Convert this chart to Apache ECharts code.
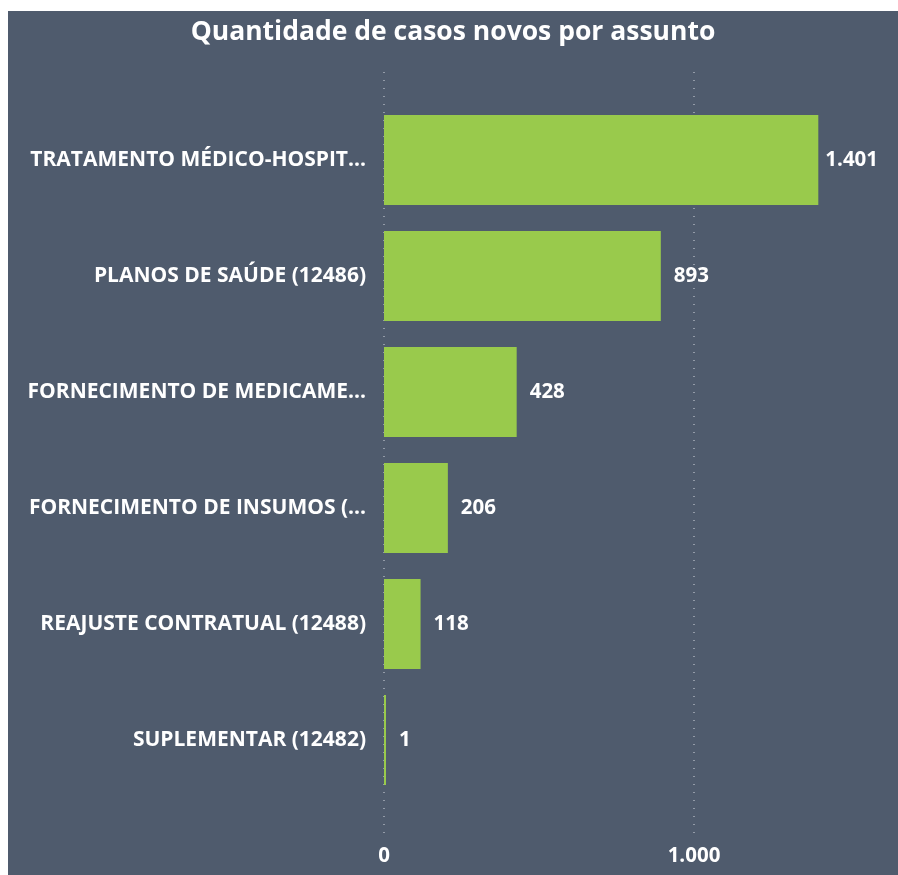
<!DOCTYPE html>
<html>
<head>
<meta charset="utf-8">
<title>Quantidade de casos novos por assunto</title>
<script src="https://cdn.jsdelivr.net/npm/echarts@6/dist/echarts.min.js"></script>
<style>
  html, body { margin: 0; padding: 0; background: #ffffff; }
  #chart { position: absolute; left: 8px; top: 11px; width: 890px; height: 864px; }
</style>
</head>
<body>
<div id="chart"></div>
<script>
// dados do gráfico
var assuntos = [
  'TRATAMENTO MÉDICO-HOSPIT...',
  'PLANOS DE SAÚDE (12486)',
  'FORNECIMENTO DE MEDICAME...',
  'FORNECIMENTO DE INSUMOS (...',
  'REAJUSTE CONTRATUAL (12488)',
  'SUPLEMENTAR (12482)'
];
var casosNovos = [1401, 893, 428, 206, 118, 1];
var eixoMax = 1500;
var eixoPasso = 1000;

// separador de milhar com ponto
function milhar(v) {
  return String(v).replace(/\B(?=(\d{3})+(?!\d))/g, '.');
}

var fonte = '"Open Sans", "Noto Sans", sans-serif';
var myChart = echarts.init(document.getElementById('chart'));

// a maior barra tem o rótulo mais perto (falta espaço à direita)
var dadosBarras = casosNovos.map(function (v, i) {
  return i === 0 ? { value: v, label: { distance: 7 } } : v;
});

var option = {
  backgroundColor: '#4f5b6d',
  animation: false,
  title: {
    text: 'Quantidade de casos novos por assunto',
    left: 'center',
    top: 3,
    textStyle: { color: '#ffffff', fontSize: 26.5, fontWeight: 'bold', fontFamily: fonte }
  },
  grid: [
    // barras
    { left: 376, right: 49, top: 91, height: 696 },
    // linhas pontilhadas e rótulos do eixo
    { left: 376, right: 49, top: 61, height: 764 }
  ],
  xAxis: [
    {
      gridIndex: 0, type: 'value', min: 0, max: eixoMax, interval: eixoPasso,
      axisLabel: { show: false }, splitLine: { show: false },
      axisLine: { show: false }, axisTick: { show: false }
    },
    {
      gridIndex: 1, type: 'value', min: 0, max: eixoMax, interval: eixoPasso,
      axisLine: { show: false }, axisTick: { show: false },
      axisLabel: {
        color: '#ffffff', fontSize: 20.5, fontWeight: 'bold', fontFamily: fonte, margin: 10,
        showMaxLabel: false,
        formatter: function (v) { return milhar(v); }
      },
      splitLine: {
        showMaxLine: false,
        lineStyle: { color: '#a9b0ba', type: [1, 7], width: 1.5 }
      }
    }
  ],
  yAxis: [
    {
      gridIndex: 0, type: 'category', data: assuntos, inverse: true,
      axisLine: { show: false }, axisTick: { show: false },
      axisLabel: {
        color: '#ffffff', fontSize: 21, fontWeight: 'bold', fontFamily: fonte, margin: 18,
        padding: [5, 0, 0, 0]
      }
    },
    {
      gridIndex: 1, type: 'category', data: [], show: false
    }
  ],
  series: [
    {
      type: 'bar',
      xAxisIndex: 0,
      yAxisIndex: 0,
      data: dadosBarras,
      barCategoryGap: '22.5%',
      barMinHeight: 2,
      itemStyle: { color: '#99ca4c' },
      label: {
        show: true,
        position: 'right',
        distance: 13,
        padding: [5, 0, 0, 0],
        color: '#ffffff',
        fontSize: 20.5,
        fontWeight: 'bold',
        fontFamily: fonte,
        formatter: function (p) { return milhar(p.value); }
      }
    }
  ]
};

myChart.setOption(option);
</script>
</body>
</html>
